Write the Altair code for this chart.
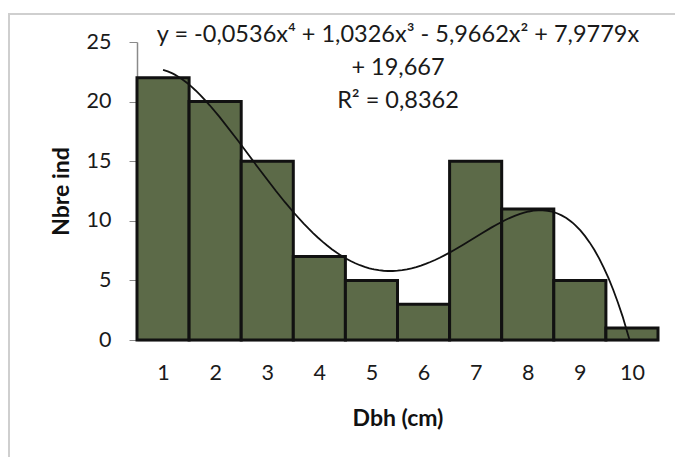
import altair as alt
import pandas as pd

dbh = [1, 2, 3, 4, 5, 6, 7, 8, 9, 10]
nbre = [22, 20, 15, 7, 5, 3, 15, 11, 5, 1]
eq_lines = ["y = -0,0536x⁴ + 1,0326x³ - 5,9662x² + 7,9779x", "+ 19,667", "R² = 0,8362"]

df = pd.DataFrame({"dbh": dbh, "nbre": nbre})
FONT = "Lato"

xscale = alt.Scale(domain=[0.5, 10.5], nice=False, zero=False)
yscale = alt.Scale(domain=[0, 25], nice=False)

base = alt.Chart(df)

bars = base.transform_calculate(
    x0="datum.dbh - 0.5", x1="datum.dbh + 0.5"
).mark_rect(fill="#5c6a48", stroke="#111111", strokeWidth=3).encode(
    x=alt.X("x0:Q", scale=xscale, title="Dbh (cm)",
            axis=alt.Axis(values=dbh, tickSize=0, labelPadding=22, grid=False,
                          domainColor="#8a8a8a", domainWidth=1.5,
                          titleY=85, titleBaseline="alphabetic")),
    x2="x1:Q",
    y=alt.Y("nbre:Q", scale=yscale, title="Nbre ind",
            axis=alt.Axis(values=[0, 5, 10, 15, 20, 25], tickSize=8, labelPadding=18,
                          grid=False, domainColor="#8a8a8a", tickColor="#8a8a8a",
                          domainWidth=1.5, titleX=-76, titleBaseline="middle")),
    y2=alt.datum(0),
)

trend = base.transform_regression(
    "dbh", "nbre", method="poly", order=4
).mark_line(color="#111111", strokeWidth=1.8, clip=True).encode(
    x=alt.X("dbh:Q", scale=xscale, title="Dbh (cm)"),
    y=alt.Y("nbre:Q", scale=yscale, title="Nbre ind"),
)

eq = alt.Chart(df).transform_filter("datum.dbh == 1").mark_text(
    text=eq_lines, font=FONT, fontSize=23.5, color="#1a1a1a",
    align="center", baseline="middle", lineHeight=33,
).encode(x=alt.value(261), y=alt.value(-7))

frame = alt.Chart(df).transform_filter("datum.dbh == 1").mark_rect(
    fill=None, stroke="#cfcfcf", strokeWidth=2, clip=False
).encode(x=alt.value(-128), x2=alt.value(560), y=alt.value(-28), y2=alt.value(430))

chart = alt.layer(frame, bars, trend, eq).properties(
    width=521, height=298,
    padding={"left": 137, "top": 42, "right": 17, "bottom": 117},
    autosize=alt.AutoSizeParams(type="none"),
    background="white",
).configure_view(stroke=None).configure_axis(
    labelFont=FONT, labelFontSize=21.5, labelColor="#1a1a1a",
    titleFont=FONT, titleFontSize=23, titleFontWeight="bold", titleColor="#111111",
)

chart.save("out.html", embed_options={"renderer": "svg", "actions": False})
